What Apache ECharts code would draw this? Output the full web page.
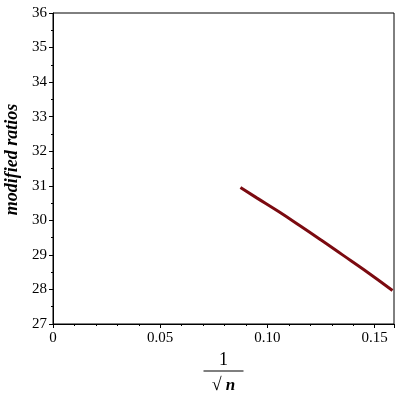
<!DOCTYPE html>
<html>
<head>
<meta charset="utf-8">
<script src="https://cdn.jsdelivr.net/npm/echarts@6/dist/echarts.min.js"></script>
<style>
  html, body { margin: 0; padding: 0; background: #fff; }
  #chart { width: 400px; height: 400px; }
</style>
</head>
<body>
<div id="chart"></div>
<script>
// values
var invSqrtN = [0.0874, 0.095, 0.105, 0.115, 0.125, 0.135, 0.145, 0.1583];
var ratios = [30.95, 30.65, 30.26, 29.85, 29.43, 29.00, 28.57, 27.97];

var serif = '"Liberation Serif", "DejaVu Serif", serif';

var myChart = echarts.init(document.getElementById('chart'));
myChart.setOption({
  animation: false,
  grid: {
    left: 53,
    right: 6,
    top: 13,
    bottom: 76,
    outerBoundsMode: 'none',
    show: true,
    borderColor: '#000',
    borderWidth: 1
  },
  xAxis: {
    type: 'value',
    min: 0,
    max: 0.159,
    interval: 0.05,
    name: '{n|1}\n{bar|}\n{d|√}{di| n}',
    nameLocation: 'middle',
    nameGap: 23,
    nameTextStyle: {
      rich: {
        n: { fontFamily: serif, fontSize: 18, color: '#000', align: 'center', lineHeight: 18 },
        bar: { width: 40, height: 1, backgroundColor: '#000', lineHeight: 4 },
        d: { fontFamily: serif, fontSize: 18, color: '#000', lineHeight: 25 },
        di: { fontFamily: serif, fontSize: 17, fontStyle: 'italic', fontWeight: 'bold', color: '#000', lineHeight: 25 }
      }
    },
    axisLine: { lineStyle: { color: '#000', width: 1 } },
    axisTick: { inside: false, length: 4, lineStyle: { color: '#000' } },
    minorTick: { show: true, splitNumber: 5, length: 2, lineStyle: { color: '#000' } },
    splitLine: { show: false },
    axisLabel: {
      showMaxLabel: false,
      margin: 7,
      color: '#000',
      fontFamily: serif,
      fontSize: 15,
      formatter: function (v) { return v === 0 ? '0' : v.toFixed(2); }
    }
  },
  yAxis: {
    type: 'value',
    min: 27,
    max: 36,
    interval: 1,
    name: 'modified ratios',
    nameLocation: 'middle',
    nameGap: 31,
    nameTextStyle: {
      fontFamily: serif,
      fontSize: 18,
      fontStyle: 'italic',
      fontWeight: 'bold',
      color: '#000',
      padding: [0, 0, 0, 18]
    },
    axisLine: { show: true, lineStyle: { color: '#000', width: 1 } },
    axisTick: { show: true, inside: false, length: 4, lineStyle: { color: '#000' } },
    minorTick: { show: true, splitNumber: 2, length: 2, lineStyle: { color: '#000' } },
    splitLine: { show: false },
    axisLabel: {
      margin: 6,
      color: '#000',
      fontFamily: serif,
      fontSize: 15
    }
  },
  series: [
    {
      type: 'line',
      data: invSqrtN.map(function (x, i) { return [x, ratios[i]]; }),
      smooth: true,
      showSymbol: false,
      lineStyle: { color: '#7b0a10', width: 3 }
    }
  ]
});
</script>
</body>
</html>
